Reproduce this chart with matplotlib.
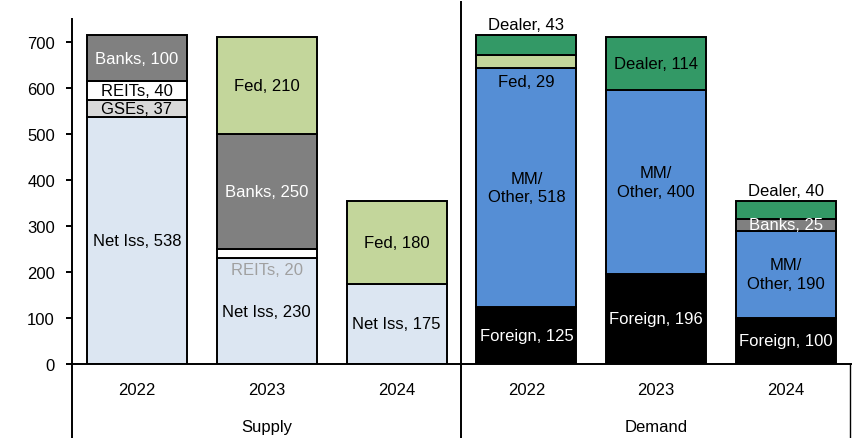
import matplotlib
matplotlib.use("Agg")
import matplotlib.pyplot as plt
import matplotlib.transforms as mtransforms
import numpy as np

plt.rcParams["font.family"] = ["Liberation Sans", "DejaVu Sans"]
plt.rcParams["font.size"] = 12

# bars: 3 supply years then 3 demand years
years = ["2022", "2023", "2024", "2022", "2023", "2024"]
groups = ["Supply", "Demand"]

# stacked from bottom to top in this order
series = ["Net Iss", "Foreign", "MM/\nOther", "GSEs", "REITs", "Banks", "Fed", "Dealer"]
net_iss = [538, 230, 175, 0, 0, 0]
foreign = [0, 0, 0, 125, 196, 100]
mm_other = [0, 0, 0, 518, 400, 190]
gses = [37, 0, 0, 0, 0, 0]
reits = [40, 20, 0, 0, 0, 0]
banks = [100, 250, 0, 0, 0, 25]
fed = [0, 210, 180, 29, 0, 0]
dealer = [0, 0, 0, 43, 114, 40]
values = [net_iss, foreign, mm_other, gses, reits, banks, fed, dealer]

colors = {"Net Iss": "#DCE6F2", "Foreign": "#000000", "MM/\nOther": "#558ED5",
          "GSEs": "#D9D9D9", "REITs": "#FFFFFF", "Banks": "#808080",
          "Fed": "#C3D69B", "Dealer": "#339966"}
text_col = {"Foreign": "white", "Banks": "white"}
# label placement overrides: (bar index, series) -> (mode, offset, color)
special = {(3, "Dealer"): ("above", 24, "black"),
           (5, "Dealer"): ("above", 22, "black"),
           (3, "Fed"): ("below", 28, "black"),
           (1, "REITs"): ("below", 24, "#A0A0A0")}

fig = plt.figure(figsize=(8.52, 4.39), dpi=100)
ax = fig.add_axes([72 / 852, 1 - 365 / 439, 779 / 852, 345 / 439])

x = np.arange(len(years))
bottom = np.zeros(len(years))
for name, vals in zip(series, values):
    vals = np.array(vals, dtype=float)
    mask = vals > 0
    ax.bar(x[mask], vals[mask], 0.77, bottom=bottom[mask], color=colors[name],
           edgecolor="black", linewidth=1.4, zorder=2)
    for i in np.where(mask)[0]:
        lab = f"{name}, {int(vals[i])}"
        mode, off, col = special.get((i, name), ("center", 0, text_col.get(name, "black")))
        if mode == "above":
            y = bottom[i] + vals[i] + off
        elif mode == "below":
            y = bottom[i] - off
        else:
            y = bottom[i] + vals[i] / 2
        ax.text(x[i], y, lab, ha="center", va="center", color=col,
                linespacing=1.3, zorder=3)
    bottom += vals

ax.set_xlim(-0.5, 5.5)
ax.set_ylim(0, 750)
ax.set_yticks(range(0, 701, 100))
ax.set_xticks(x)
ax.set_xticklabels(years)
ax.tick_params(axis="x", length=0, pad=13)
ax.tick_params(axis="y", length=4.3, width=1.4, direction="out", pad=8)
for s in ("top", "right"):
    ax.spines[s].set_visible(False)
ax.spines["left"].set_linewidth(1.4)
ax.spines["bottom"].set_linewidth(1.4)

# category-axis separators below the plot
trans = mtransforms.blended_transform_factory(ax.transData, ax.transAxes)
low = -74 / 345
ax.plot([-0.5, -0.5], [low, 0], color="black", lw=1.4, transform=trans, clip_on=False)
ax.plot([2.5, 2.5], [low, 1.05], color="black", lw=1.4, transform=trans, clip_on=False)
ax.plot([5.49, 5.49], [low, 0], color="black", lw=1.0, transform=trans, clip_on=False)
ax.text(1, -63 / 345, groups[0], ha="center", va="center", transform=trans)
ax.text(4, -63 / 345, groups[1], ha="center", va="center", transform=trans)

fig.savefig("out.png", dpi=100)
